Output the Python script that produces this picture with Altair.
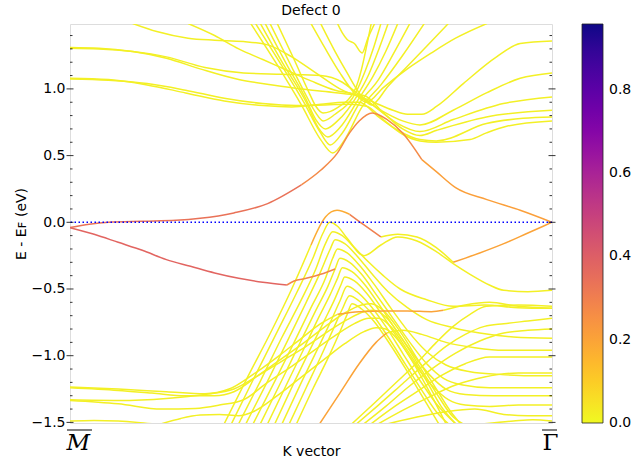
import altair as alt
import pandas as pd

# Band weights (defect character); most bands carry almost none
YEL = 0.02

# ---------------- bands crossing the gap (red / orange) ----------------
cond_a = (0.34, [0.0, 0.04, 0.08, 0.15, 0.22, 0.27, 0.34, 0.41, 0.48],
          [-0.04, -0.015, 0.0, 0.008, 0.015, 0.03, 0.07, 0.14, 0.28])
cond_b = (0.27, [0.48, 0.52, 0.555, 0.58, 0.60, 0.627, 0.658, 0.69, 0.73],
          [0.28, 0.39, 0.52, 0.67, 0.76, 0.82, 0.77, 0.67, 0.47])
cond_c = (0.21, [0.73, 0.76, 0.80, 0.865, 0.934, 1.0],
          [0.47, 0.38, 0.26, 0.17, 0.09, 0.0])
val_a = (0.38, [0.0, 0.05, 0.1, 0.15, 0.2, 0.25, 0.3, 0.35, 0.40, 0.45],
         [-0.04, -0.09, -0.15, -0.21, -0.28, -0.33, -0.38, -0.42, -0.45, -0.47])
val_b = (0.28, [0.45, 0.465, 0.49, 0.52, 0.55], [-0.47, -0.44, -0.42, -0.39, -0.35])

# ---------------- upper manifold ----------------
up_a = (YEL, [0, 0.08, 0.16, 0.24, 0.32, 0.40, 0.46, 0.52, 0.57, 0.60, 0.64, 0.68, 0.726, 0.76, 0.864, 0.94, 1.0],
        [1.08, 1.07, 1.03, 0.97, 0.91, 0.875, 0.865, 0.885, 0.90, 0.90, 0.79, 0.69, 0.62, 0.61, 0.74, 0.78, 0.79])
up_b = (YEL, [0, 0.08, 0.16, 0.24, 0.32, 0.40, 0.47, 0.53, 0.58, 0.615, 0.65, 0.69, 0.726, 0.76, 0.83, 0.864, 0.906, 1.0],
        [1.075, 1.065, 1.04, 0.99, 0.93, 0.89, 0.875, 0.88, 0.885, 0.87, 0.77, 0.66, 0.61, 0.60, 0.62, 0.67, 0.72, 0.76])
up_c = (YEL, [0, 0.06, 0.13, 0.2, 0.27, 0.35, 0.42, 0.48, 0.53, 0.58, 0.61, 0.65, 0.69, 0.726, 0.761, 0.864, 1.0],
        [1.31, 1.305, 1.28, 1.23, 1.15, 1.07, 1.03, 1.0, 0.98, 0.96, 0.95, 0.82, 0.70, 0.65, 0.69, 0.79, 0.84])
up_d = (YEL, [0, 0.06, 0.13, 0.2, 0.28, 0.36, 0.44, 0.52, 0.565, 0.595, 0.635, 0.68, 0.726, 0.795, 0.899, 1.0],
        [1.305, 1.30, 1.28, 1.24, 1.16, 1.12, 1.11, 1.10, 1.05, 0.97, 0.86, 0.74, 0.68, 0.77, 0.89, 0.94])
up_e = (YEL, [0.13, 0.18, 0.245, 0.30, 0.36, 0.41, 0.46, 0.51, 0.56, 0.605, 0.645, 0.69, 0.726, 0.795, 0.864, 0.934, 1.0],
        [1.49, 1.43, 1.38, 1.365, 1.355, 1.33, 1.24, 1.12, 1.0, 0.93, 0.84, 0.76, 0.73, 0.84, 0.97, 1.08, 1.12])
up_f = (YEL, [0.245, 0.3, 0.35, 0.40, 0.45, 0.5, 0.55, 0.59, 0.63, 0.67, 0.70, 0.73, 0.761, 0.816, 0.885, 0.934, 1.0],
        [1.49, 1.40, 1.30, 1.22, 1.14, 1.06, 0.99, 0.96, 0.90, 0.84, 0.81, 0.81, 0.87, 1.04, 1.24, 1.34, 1.36])

# steep V-shaped bands around the upper crossing
vee_1 = (YEL, [0.375, 0.43, 0.48, 0.52, 0.545, 0.57, 0.605, 0.645, 0.69, 0.735],
         [1.49, 1.18, 0.88, 0.62, 0.52, 0.62, 0.86, 1.03, 1.25, 1.49])
vee_2 = (YEL, [0.385, 0.44, 0.485, 0.52, 0.54, 0.565, 0.60, 0.64, 0.672, 0.705],
         [1.49, 1.17, 0.90, 0.67, 0.58, 0.67, 0.89, 1.07, 1.27, 1.49])
vee_3 = (YEL, [0.395, 0.445, 0.49, 0.515, 0.535, 0.56, 0.598, 0.628, 0.655, 0.68],
         [1.49, 1.17, 0.90, 0.71, 0.64, 0.71, 0.92, 1.09, 1.28, 1.49])
vee_4 = (YEL, [0.405, 0.45, 0.49, 0.51, 0.53, 0.555, 0.596, 0.62, 0.64, 0.66],
         [1.49, 1.18, 0.92, 0.77, 0.70, 0.76, 0.95, 1.11, 1.29, 1.49])
vee_5 = (YEL, [0.415, 0.455, 0.49, 0.51, 0.525, 0.55, 0.594, 0.612, 0.63, 0.645],
         [1.49, 1.20, 0.95, 0.82, 0.76, 0.81, 0.98, 1.13, 1.31, 1.49])
vee_6 = (YEL, [0.43, 0.465, 0.495, 0.51, 0.525, 0.555, 0.592, 0.605, 0.616, 0.625],
         [1.49, 1.22, 0.98, 0.87, 0.82, 0.86, 1.0, 1.15, 1.33, 1.49])
steep_1 = (YEL, [0.50, 0.53, 0.56, 0.59, 0.615, 0.65, 0.70, 0.75, 0.80, 0.865],
           [1.49, 1.30, 1.12, 0.97, 0.90, 1.01, 1.15, 1.27, 1.38, 1.49])
steep_2 = (YEL, [0.52, 0.55, 0.575, 0.60, 0.625, 0.66, 0.70, 0.74, 0.785],
           [1.49, 1.28, 1.12, 0.97, 0.88, 1.02, 1.17, 1.32, 1.49])
steep_3 = (YEL, [0.555, 0.565, 0.575, 0.59, 0.606, 0.618, 0.632],
           [1.49, 1.42, 1.37, 1.34, 1.27, 1.38, 1.49])

# ---------------- lower manifold ----------------
low_1 = (YEL, [0, 0.1, 0.2, 0.28, 0.33, 0.38, 0.43, 0.48, 0.52, 0.555],
         [-1.235, -1.25, -1.27, -1.285, -1.25, -1.14, -1.01, -0.87, -0.76, -0.69])
low_1o = (0.2, [0.555, 0.6, 0.65, 0.70, 0.75, 0.775], [-0.69, -0.67, -0.665, -0.665, -0.67, -0.66])
low_1t = (YEL, [0.775, 0.82, 0.87, 0.93, 1.0], [-0.66, -0.62, -0.60, -0.63, -0.645])
low_2 = (YEL, [0, 0.1, 0.17, 0.24, 0.3, 0.34, 0.39, 0.44, 0.49, 0.53, 0.57, 0.605, 0.625, 0.65, 0.685, 0.72, 0.755, 0.79, 0.81],
         [-1.24, -1.26, -1.28, -1.30, -1.30, -1.27, -1.15, -1.02, -0.89, -0.78, -0.68, -0.62, -0.61, -0.66, -0.82, -1.02, -1.22, -1.42, -1.51])
low_3 = (YEL, [0, 0.1, 0.2, 0.28, 0.34, 0.39, 0.44, 0.49, 0.535, 0.575, 0.61, 0.63, 0.655, 0.69, 0.725, 0.76, 0.795, 0.815],
         [-1.33, -1.335, -1.32, -1.29, -1.25, -1.15, -1.04, -0.93, -0.82, -0.73, -0.67, -0.66, -0.71, -0.88, -1.08, -1.28, -1.46, -1.51])
low_4 = (YEL, [0, 0.1, 0.19, 0.26, 0.31, 0.36, 0.41, 0.46, 0.51, 0.55, 0.59, 0.62, 0.64, 0.665, 0.70, 0.735, 0.77, 0.80],
         [-1.335, -1.36, -1.40, -1.395, -1.37, -1.33, -1.20, -1.08, -0.95, -0.85, -0.76, -0.72, -0.72, -0.78, -0.96, -1.16, -1.38, -1.51])
low_5 = (YEL, [0, 0.05, 0.1, 0.14, 0.17], [-1.49, -1.485, -1.49, -1.50, -1.51])
low_6 = (YEL, [0.19, 0.23, 0.27, 0.31, 0.35, 0.38, 0.43, 0.48, 0.53, 0.57, 0.61, 0.635, 0.655, 0.68, 0.715, 0.75, 0.78],
         [-1.51, -1.47, -1.445, -1.44, -1.45, -1.42, -1.30, -1.16, -1.02, -0.91, -0.82, -0.79, -0.80, -0.88, -1.07, -1.30, -1.51])

# Lambda-shaped bands below the Fermi level
lam_0a = (YEL, [0.32, 0.37, 0.42, 0.46, 0.50], [-1.51, -1.15, -0.80, -0.50, -0.17])
lam_0b = (0.18, [0.50, 0.53, 0.554, 0.58], [-0.17, 0.04, 0.09, 0.06])
lam_0c = (0.30, [0.58, 0.61, 0.645], [0.06, -0.02, -0.11])
lam_0d = (YEL, [0.645, 0.68, 0.72, 0.76, 0.795], [-0.11, -0.09, -0.11, -0.19, -0.30])
lam_0e = (0.20, [0.795, 0.85, 0.90, 0.95, 1.0], [-0.30, -0.23, -0.16, -0.08, 0.0])
lam_1 = (YEL, [0.335, 0.38, 0.43, 0.47, 0.505, 0.525, 0.539, 0.555, 0.575, 0.61, 0.645, 0.68, 0.72, 0.76, 0.795, 0.83, 0.87, 0.9, 0.95, 1.0],
         [-1.51, -1.18, -0.82, -0.53, -0.26, -0.08, 0.0, -0.03, -0.12, -0.25, -0.17, -0.11, -0.14, -0.22, -0.31, -0.39, -0.47, -0.51, -0.52, -0.51])
lam_2 = (YEL, [0.35, 0.395, 0.44, 0.48, 0.51, 0.53, 0.545, 0.565, 0.59, 0.62, 0.65, 0.685, 0.74, 0.795, 0.86, 0.93, 1.0],
         [-1.51, -1.19, -0.86, -0.58, -0.35, -0.16, -0.07, -0.10, -0.19, -0.30, -0.40, -0.50, -0.58, -0.63, -0.62, -0.64, -0.645])
lam_3 = (YEL, [0.365, 0.41, 0.455, 0.49, 0.52, 0.54, 0.55, 0.57, 0.595, 0.625, 0.66, 0.70, 0.74, 0.795, 0.85, 0.92, 1.0],
         [-1.51, -1.19, -0.86, -0.60, -0.37, -0.20, -0.13, -0.16, -0.25, -0.38, -0.52, -0.64, -0.73, -0.79, -0.83, -0.86, -0.87])
lam_4 = (YEL, [0.38, 0.425, 0.465, 0.50, 0.53, 0.545, 0.555, 0.575, 0.60, 0.63, 0.665, 0.70, 0.74, 0.78, 0.83, 0.89, 0.95, 1.0],
         [-1.51, -1.19, -0.90, -0.64, -0.42, -0.27, -0.20, -0.23, -0.32, -0.46, -0.64, -0.81, -0.97, -1.07, -1.12, -1.14, -1.15, -1.15])
lam_5 = (YEL, [0.395, 0.44, 0.475, 0.51, 0.535, 0.55, 0.56, 0.58, 0.605, 0.635, 0.67, 0.705, 0.74, 0.775, 0.815, 0.87, 0.93, 1.0],
         [-1.51, -1.18, -0.92, -0.66, -0.48, -0.35, -0.27, -0.30, -0.39, -0.54, -0.72, -0.90, -1.06, -1.17, -1.22, -1.24, -1.24, -1.24])
lam_6 = (YEL, [0.41, 0.45, 0.485, 0.515, 0.54, 0.555, 0.565, 0.585, 0.61, 0.64, 0.675, 0.71, 0.745, 0.78, 0.82, 0.88, 0.94, 1.0],
         [-1.51, -1.21, -0.95, -0.72, -0.54, -0.42, -0.34, -0.37, -0.46, -0.61, -0.80, -0.98, -1.14, -1.25, -1.29, -1.30, -1.30, -1.30])
lam_7 = (YEL, [0.425, 0.465, 0.50, 0.53, 0.55, 0.562, 0.57, 0.59, 0.615, 0.645, 0.68, 0.715, 0.75, 0.785, 0.82, 0.87, 0.93, 1.0],
         [-1.51, -1.20, -0.94, -0.72, -0.57, -0.47, -0.41, -0.44, -0.53, -0.68, -0.87, -1.06, -1.22, -1.33, -1.37, -1.38, -1.37, -1.37])
lam_8 = (YEL, [0.44, 0.48, 0.515, 0.54, 0.56, 0.575, 0.595, 0.62, 0.655, 0.69, 0.725, 0.76, 0.80],
         [-1.51, -1.20, -0.94, -0.75, -0.59, -0.48, -0.52, -0.61, -0.78, -0.98, -1.18, -1.36, -1.51])
lam_9 = (YEL, [0.455, 0.49, 0.52, 0.545, 0.565, 0.58, 0.60, 0.625, 0.66, 0.695, 0.73, 0.76, 0.785],
         [-1.51, -1.24, -1.01, -0.81, -0.65, -0.55, -0.59, -0.68, -0.86, -1.06, -1.26, -1.42, -1.51])
lam_10 = (YEL, [0.47, 0.505, 0.535, 0.56, 0.575, 0.585, 0.605, 0.63, 0.665, 0.70, 0.735, 0.765],
          [-1.51, -1.24, -1.02, -0.82, -0.69, -0.61, -0.65, -0.74, -0.92, -1.12, -1.33, -1.51])

# orange band rising from the bottom edge, then flattening toward Gamma
rise_o = (0.2, [0.518, 0.56, 0.60, 0.635, 0.657], [-1.51, -1.28, -1.06, -0.90, -0.83])
rise_t = (YEL, [0.657, 0.69, 0.73, 0.78, 0.84, 0.90, 0.95, 1.0], [-0.83, -0.81, -0.84, -0.90, -0.94, -0.96, -0.96, -0.96])

# bands rising from the bottom edge toward Gamma
gam_1 = (YEL, [0.585, 0.63, 0.68, 0.726, 0.76, 0.795, 0.83, 0.864, 0.93, 1.0],
         [-1.51, -1.36, -1.19, -1.03, -0.90, -0.78, -0.69, -0.63, -0.62, -0.63])
gam_2 = (YEL, [0.595, 0.64, 0.69, 0.74, 0.78, 0.82, 0.86, 0.90, 0.95, 1.0],
         [-1.51, -1.37, -1.21, -1.05, -0.93, -0.84, -0.78, -0.76, -0.74, -0.72])
gam_3 = (YEL, [0.61, 0.655, 0.70, 0.75, 0.80, 0.85, 0.90, 0.95, 1.0],
         [-1.51, -1.38, -1.24, -1.10, -0.98, -0.89, -0.83, -0.81, -0.80])
gam_4 = (YEL, [0.625, 0.67, 0.72, 0.77, 0.82, 0.87, 0.93, 1.0],
         [-1.51, -1.39, -1.27, -1.15, -1.06, -1.01, -1.01, -1.01])
gam_5 = (YEL, [0.64, 0.69, 0.745, 0.80, 0.86, 0.93, 1.0],
         [-1.51, -1.41, -1.31, -1.22, -1.16, -1.13, -1.13])
gam_6 = (YEL, [0.66, 0.72, 0.78, 0.84, 0.90, 0.95, 1.0],
         [-1.51, -1.46, -1.42, -1.40, -1.44, -1.45, -1.45])
gam_7 = (YEL, [0.86, 0.92, 0.96, 1.0], [-1.51, -1.49, -1.48, -1.49])

BANDS = {
    "cond_a": cond_a, "cond_b": cond_b, "cond_c": cond_c, "val_a": val_a, "val_b": val_b,
    "up_a": up_a, "up_b": up_b, "up_c": up_c, "up_d": up_d, "up_e": up_e, "up_f": up_f,
    "vee_1": vee_1, "vee_2": vee_2, "vee_3": vee_3, "vee_4": vee_4, "vee_5": vee_5, "vee_6": vee_6,
    "steep_1": steep_1, "steep_2": steep_2, "steep_3": steep_3,
    "low_1": low_1, "low_1o": low_1o, "low_1t": low_1t, "low_2": low_2, "low_3": low_3,
    "low_4": low_4, "low_5": low_5, "low_6": low_6,
    "lam_0a": lam_0a, "lam_0b": lam_0b, "lam_0c": lam_0c, "lam_0d": lam_0d, "lam_0e": lam_0e,
    "lam_1": lam_1, "lam_2": lam_2, "lam_3": lam_3, "lam_4": lam_4, "lam_5": lam_5,
    "lam_6": lam_6, "lam_7": lam_7, "lam_8": lam_8, "lam_9": lam_9, "lam_10": lam_10,
    "rise_o": rise_o, "rise_t": rise_t,
    "gam_1": gam_1, "gam_2": gam_2, "gam_3": gam_3, "gam_4": gam_4, "gam_5": gam_5,
    "gam_6": gam_6, "gam_7": gam_7,
}

# axis ticks (drawn inward, matplotlib style)
MAJOR_TICKS = [-1.5, -1.0, -0.5, 0.0, 0.5, 1.0]
MINOR_TICKS = [-1.4, -1.3, -1.2, -1.1, -0.9, -0.8, -0.7, -0.6, -0.4, -0.3, -0.2, -0.1,
               0.1, 0.2, 0.3, 0.4, 0.6, 0.7, 0.8, 0.9, 1.1, 1.2, 1.3, 1.4]
# colourbar ticks; the lowest sits a hair above 0 so its label stays centred on the bar end
CBAR_TICKS = [0.0001, 0.2, 0.4, 0.6, 0.8]
W_MAX = 0.958
FERMI = [0.0]
KPATH = [0.0, 1.0]

rows = []
for name, (w, ks, es) in BANDS.items():
    for k, e in zip(ks, es):
        rows.append({"band": name, "k": k, "E": e, "w": w})
df = pd.DataFrame(rows)
plain = df[df["w"] < 0.05]
tinted = df[df["w"] >= 0.05]

W, H = 482, 399
FONT = "DejaVu Sans"

xscale = alt.Scale(domain=[0, 1], nice=False, zero=False)
yscale = alt.Scale(domain=[-1.5045, 1.4865], nice=False, zero=False)
cscale = alt.Scale(scheme="plasma", reverse=True, domain=[0, W_MAX])

xaxis = alt.Axis(
    values=KPATH, grid=False, domain=False, ticks=False,
    labelExpr="datum.value == 0 ? 'M' : '\u0393'",
    labelFont="DejaVu Serif", labelFontSize=23, labelColor="black", labelPadding=8,
    labelFlush=False,
    labelFontStyle={"condition": {"test": "datum.value == 0", "value": "italic"}, "value": "normal"},
    labelAlign={"condition": {"test": "datum.value == 0", "value": "left"}, "value": "center"},
    labelOffset={"condition": {"test": "datum.value == 0", "value": -4}, "value": -2},
    title="K vector", titleFont=FONT, titleFontSize=14, titleFontWeight="normal",
    titleColor="black", titlePadding=-10,
)
yaxis = alt.Axis(
    values=MAJOR_TICKS, format=".1f", grid=False, domain=False, ticks=False,
    labelFont=FONT, labelFontSize=14, labelColor="black", labelPadding=5,
    title="E - E\ua730 (eV)", titleFont=FONT, titleFontSize=14, titleFontWeight="normal",
    titleColor="black", titlePadding=3,
)
color = alt.Color(
    "w:Q", scale=cscale,
    legend=alt.Legend(
        orient="none", legendX=W + 30, legendY=0, direction="vertical", title=None,
        gradientLength=H, gradientThickness=21, values=CBAR_TICKS, format=".1f",
        labelFont=FONT, labelFontSize=14, labelColor="black", labelOffset=6,
        gradientStrokeColor="#222", gradientStrokeWidth=0.8, padding=0,
    ),
)


def band_layer(data):
    return alt.Chart(data).mark_line(interpolate="monotone", strokeWidth=1.5, clip=True).encode(
        x=alt.X("k:Q", scale=xscale, axis=xaxis),
        y=alt.Y("E:Q", scale=yscale, axis=yaxis),
        detail="band:N",
        order="k:Q",
        color=color,
    )


bands_plain = band_layer(plain)
bands_tinted = band_layer(tinted)

fermi = alt.Chart(pd.DataFrame({"E": FERMI})).mark_rule(
    color="#0000ff", strokeDash=[1.5, 2.5], strokeWidth=1.4
).encode(y=alt.Y("E:Q", scale=yscale, axis=yaxis))

major = pd.DataFrame({"v": MAJOR_TICKS})
minor = pd.DataFrame({"v": MINOR_TICKS})


def tick_layer(data, x0, x1):
    return alt.Chart(data).mark_rule(color="black", strokeWidth=0.8).encode(
        y=alt.Y("v:Q", scale=yscale, axis=yaxis),
        x=alt.value(x0), x2=alt.value(x1),
    )


ticks = [
    tick_layer(major, -3.5, 3.5), tick_layer(minor, 0, 2.5),
    tick_layer(major, W - 3.5, W + 3.5), tick_layer(minor, W - 2.5, W),
]


# overlines of the high-symmetry point labels
def overline(kval, left, right):
    return alt.Chart(pd.DataFrame({"k": [kval]})).mark_rule(
        color="black", strokeWidth=1, xOffset=left, x2Offset=right
    ).encode(
        x=alt.X("k:Q", scale=xscale, axis=xaxis), x2="k:Q", y=alt.value(H + 7),
    )


bars = [overline(KPATH[0], -3, 22), overline(KPATH[1], -10, 5)]

chart = alt.layer(bands_plain, bands_tinted, fermi, *ticks, *bars).properties(
    width=W, height=H,
    title=alt.TitleParams("Defect 0", font=FONT, fontSize=14, fontWeight="normal",
                          color="black", offset=6),
    autosize=alt.AutoSizeParams(type="none"),
    padding={"left": 70, "top": 24, "right": 87, "bottom": 40},
).configure_view(
    stroke="#333", strokeWidth=1
).configure(background="white")

chart.save("out.html", embed_options={"renderer": "svg", "actions": False})
